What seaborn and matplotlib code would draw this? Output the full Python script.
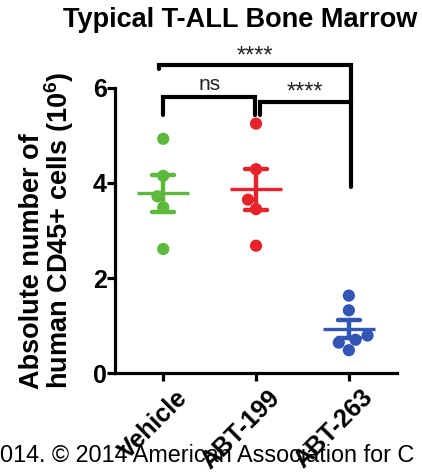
import matplotlib
matplotlib.use("Agg")
import matplotlib.pyplot as plt
import matplotlib.transforms as mtrans
import pandas as pd
import seaborn as sns

# ---- data -------------------------------------------------------------------
groups = ["Vehicle", "ABT-199", "ABT-263"]
colors = ["#5db83c", "#e8222b", "#3356b4"]
vehicle = [4.93, 4.15, 3.72, 3.49, 2.61]
abt199 = [5.25, 4.29, 3.65, 3.45, 2.68]
abt263 = [1.63, 1.32, 0.79, 0.70, 0.64, 0.48]

# significance brackets: (x_left, x_right, top, left leg end, right leg end, label)
br_x_left = [0.0, 1.04, -0.05]
br_x_right = [0.99, 2.02, 2.02]
br_top = [5.82, 5.71, 6.49]
br_left_end = [5.44, 5.44, 6.39]
br_right_end = [5.44, 3.92, 5.71]
br_labels = ["ns", "****", "****"]
br_label_y = [5.88, 5.9, 6.66]

df = pd.DataFrame({
    "group": ["Vehicle"] * len(vehicle) + ["ABT-199"] * len(abt199) + ["ABT-263"] * len(abt263),
    "value": vehicle + abt199 + abt263,
})

sns.set_theme(style="ticks")
plt.rcParams["font.family"] = ["Liberation Sans", "DejaVu Sans"]
plt.rcParams["mathtext.fontset"] = "custom"
plt.rcParams["mathtext.rm"] = "Liberation Sans"
plt.rcParams["mathtext.bf"] = "Liberation Sans:bold"
for key in ["text.color", "axes.labelcolor", "xtick.color", "ytick.color"]:
    plt.rcParams[key] = "black"

fig, ax = plt.subplots(figsize=(4.22, 4.72), dpi=100)
fig.subplots_adjust(left=0.2725, right=0.941, bottom=0.2097, top=0.8136)

pal = dict(zip(groups, colors))
sns.swarmplot(data=df, x="group", y="value", hue="group", order=groups, palette=pal,
              size=8.8, linewidth=0, legend=False, ax=ax, zorder=2)
sns.pointplot(data=df, x="group", y="value", hue="group", order=groups, palette=pal,
              errorbar="se", capsize=0.24, linestyle="none", marker="_",
              markersize=38, markeredgewidth=2.4, err_kws={"linewidth": 3.2},
              legend=False, ax=ax)

ax.set_xlim(-0.52, 2.52)
ax.set_ylim(0, 6)
ax.set_yticks([0, 2, 4, 6])
sns.despine(ax=ax)
for s in ["left", "bottom"]:
    ax.spines[s].set_linewidth(2.3)
    ax.spines[s].set_color("black")
ax.tick_params(axis="both", width=2.3, length=5.5, color="black", labelsize=18, pad=0.5)
for lab in ax.get_yticklabels():
    lab.set_fontweight("bold")
ax.set_xticks(range(len(groups)))
ax.set_xticklabels(groups, rotation=45, ha="right", rotation_mode="anchor",
                   fontweight="bold", fontsize=18)
shift = mtrans.ScaledTranslation(12 / 100, -4 / 100, fig.dpi_scale_trans)
for lab in ax.get_xticklabels():
    lab.set_transform(lab.get_transform() + shift)
ax.set_xlabel("")
ax.set_ylabel("Absolute number of\nhuman CD45+ cells (10$^{\\mathbf{6}}$)",
              fontsize=19.5, fontweight="bold", labelpad=12, linespacing=0.9,
              multialignment="left")

for xl, xr, top, le, re, lab, ly in zip(br_x_left, br_x_right, br_top, br_left_end,
                                        br_right_end, br_labels, br_label_y):
    ax.plot([xl, xl, xr, xr], [le, top, top, re], color="black", lw=3,
            solid_joinstyle="miter", clip_on=False)
    ax.text((xl + xr) / 2, ly, lab, ha="center", va="bottom" if lab == "ns" else "center",
            fontsize=15 if lab == "ns" else 17, color="#222222", clip_on=False)

fig.text(0.57, 1 - 20 / 472, "Typical T-ALL Bone Marrow", ha="center", va="center",
         fontsize=19.5, fontweight="bold")
fig.text(0.0, 1 - 456 / 472, "014. \u00a9 2014 American Association for C",
         ha="left", va="center", fontsize=16.8)

fig.savefig("out.png", dpi=100)
